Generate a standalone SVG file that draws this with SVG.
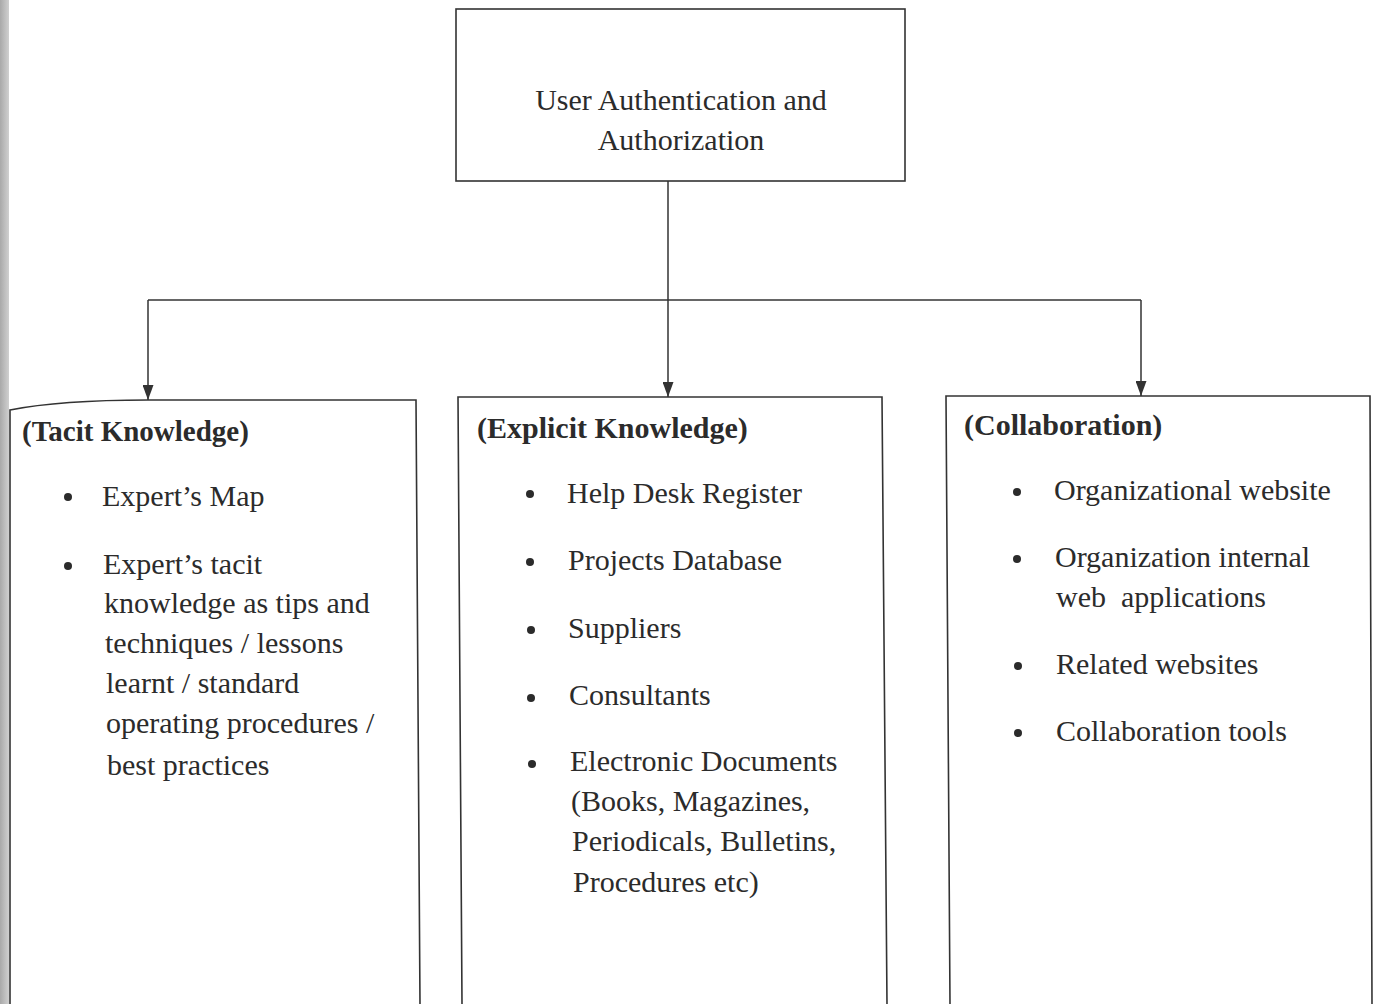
<svg xmlns="http://www.w3.org/2000/svg" width="1382" height="1004" viewBox="0 0 1382 1004">
  <defs>
    <style>
      .box { fill: none; stroke: #333; stroke-width: 1.6; }
      .wire { fill: none; stroke: #333; stroke-width: 1.5; }
      text { font-family: "Liberation Serif", "Times New Roman", serif; font-size: 30px; fill: #2b2b2b; }
      .head { font-weight: bold; }
      .title { text-anchor: middle; }
      .dot { fill: #2b2b2b; }
    </style>
    <marker id="arrow" viewBox="0 0 15 11" refX="15" refY="5.5" markerWidth="15" markerHeight="11" markerUnits="userSpaceOnUse" orient="auto">
      <path d="M0,0 L15,5.5 L0,11 Z" fill="#333"/>
    </marker>
    <linearGradient id="edge" x1="0" y1="0" x2="1" y2="0">
      <stop offset="0" stop-color="#a9a9a9"/>
      <stop offset="1" stop-color="#d0d0d0"/>
    </linearGradient>
  </defs>

  <rect width="1382" height="1004" fill="#ffffff"/>
  <!-- darker binding edge on the left -->
  <rect x="0" y="0" width="9" height="1004" fill="url(#edge)"/>

  <!-- connectors -->
  <g id="connectors">
    <path class="wire" d="M668,181 L668,397" marker-end="url(#arrow)"/>
    <path class="wire" d="M148,300 L1141,300"/>
    <path class="wire" d="M148,300 L148,400" marker-end="url(#arrow)"/>
    <path class="wire" d="M1141,300 L1141,396" marker-end="url(#arrow)"/>
  </g>

  <!-- top node -->
  <g id="auth">
    <rect class="box" x="456" y="9" width="449" height="172"/>
    <text class="title" x="681" y="110">User Authentication and</text>
    <text class="title" x="681" y="150">Authorization</text>
  </g>

  <!-- tacit knowledge -->
  <g id="tacit">
    <path class="box" d="M10,1004 L10,410 Q60,400 148,400 L416,400 L420,1004"/>
    <text class="head" x="22" y="441" style="font-size:29px">(Tacit Knowledge)</text>
    <circle class="dot" cx="68" cy="497" r="4"/>
    <text x="102" y="506">Expert’s Map</text>
    <circle class="dot" cx="68" cy="566" r="4"/>
    <text x="103" y="574">Expert’s tacit</text>
    <text x="104" y="613">knowledge as tips and</text>
    <text x="105" y="653">techniques / lessons</text>
    <text x="106" y="693">learnt / standard</text>
    <text x="106" y="733">operating procedures /</text>
    <text x="107" y="775">best practices</text>
  </g>

  <!-- explicit knowledge -->
  <g id="explicit">
    <path class="box" d="M462,1004 L458,397 L882,397 L887,1004"/>
    <text class="head" x="477" y="438">(Explicit Knowledge)</text>
    <circle class="dot" cx="530" cy="494" r="4"/>
    <text x="567" y="503">Help Desk Register</text>
    <circle class="dot" cx="530" cy="562" r="4"/>
    <text x="568" y="570">Projects Database</text>
    <circle class="dot" cx="531" cy="630" r="4"/>
    <text x="568" y="638">Suppliers</text>
    <circle class="dot" cx="531" cy="698" r="4"/>
    <text x="569" y="705">Consultants</text>
    <circle class="dot" cx="532" cy="764" r="4"/>
    <text x="570" y="771">Electronic Documents</text>
    <text x="571" y="811">(Books, Magazines,</text>
    <text x="572" y="851">Periodicals, Bulletins,</text>
    <text x="573" y="892">Procedures etc)</text>
  </g>

  <!-- collaboration -->
  <g id="collaboration">
    <path class="box" d="M950,1004 L946,396 L1370,396 L1372,1004"/>
    <text class="head" x="964" y="435">(Collaboration)</text>
    <circle class="dot" cx="1017" cy="492" r="4"/>
    <text x="1054" y="500">Organizational website</text>
    <circle class="dot" cx="1017" cy="559" r="4"/>
    <text x="1055" y="567">Organization internal</text>
    <text x="1056" y="607" xml:space="preserve">web  applications</text>
    <circle class="dot" cx="1018" cy="666" r="4"/>
    <text x="1056" y="674">Related websites</text>
    <circle class="dot" cx="1018" cy="733" r="4"/>
    <text x="1056" y="741">Collaboration tools</text>
  </g>
</svg>
